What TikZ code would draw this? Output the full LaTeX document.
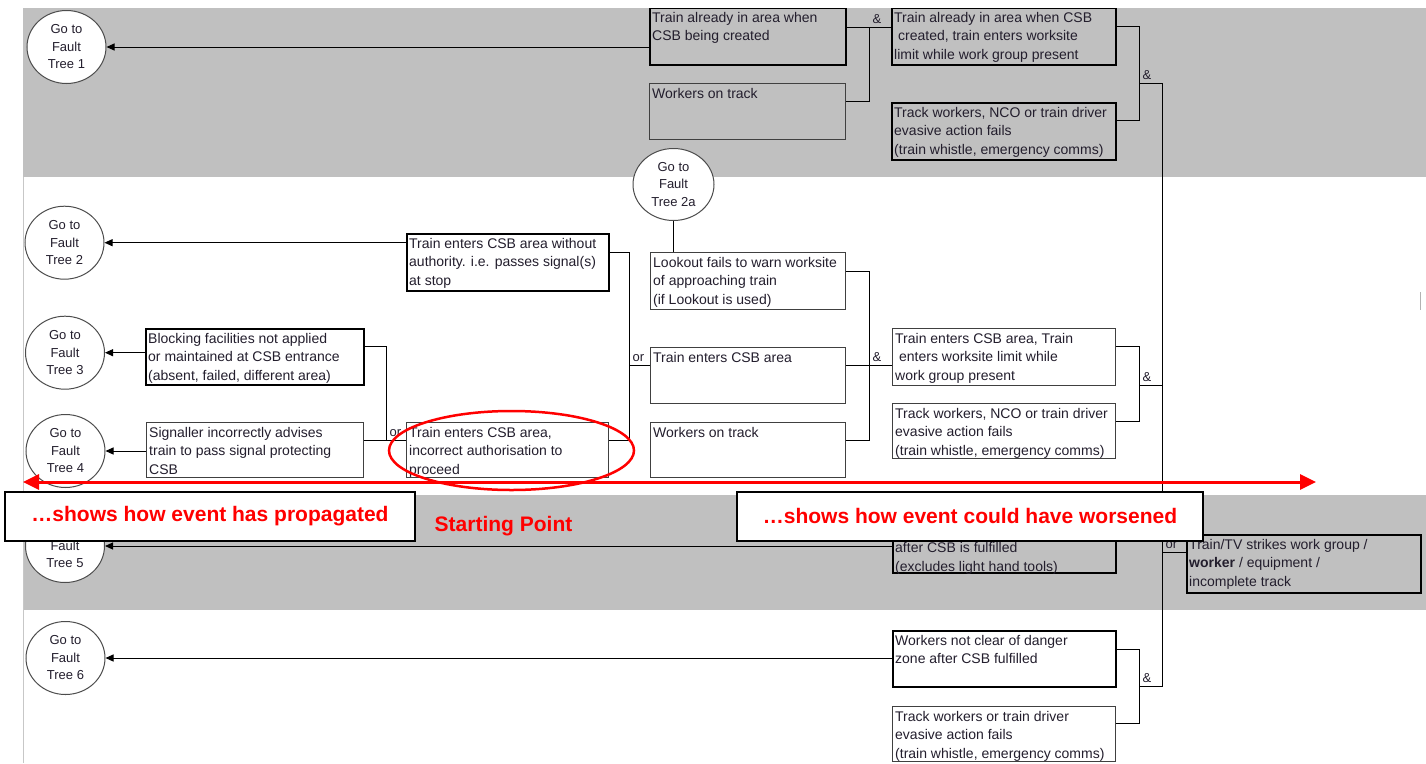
\documentclass[tikz,border=0pt]{standalone}
\usepackage{fontspec}
\setmainfont{Liberation Sans}
\usetikzlibrary{arrows.meta,shapes.geometric}
\definecolor{band}{RGB}{192,192,192}
\definecolor{ink}{RGB}{35,30,45}
\definecolor{redA}{RGB}{255,0,0}
\newcommand\mybox[7]{%
  \node[#2, minimum width=#5pt, minimum height=#6pt, anchor=north west] (#1) at (#3,#4) {};
  \node[boxtext, anchor=north west] (#1t) at (#1.north west) {#7};}
\tikzset{
  thinbox/.style={draw=black!75, line width=1.1pt, inner sep=0pt},
  thickbox/.style={draw=black, line width=2.4pt, inner sep=0pt},
  boxtext/.style={align=left, font=\fontsize{14}{18.5}\selectfont, text=ink, inner xsep=3pt, inner ysep=5pt},
  ft/.style={ellipse, draw=black!70, line width=1pt, fill=white, minimum width=79pt, minimum height=73pt,
    inner sep=0pt, align=center, font=\fontsize{13}{17.5}\selectfont, text=ink},
  conn/.style={draw=black, line width=1pt},
  arr/.style={draw=black, line width=1pt, -{Triangle[length=8pt,width=7pt]}},
  gl/.style={anchor=base west, inner sep=0pt, xshift=3.5pt, yshift=4pt, font=\fontsize{13}{15}\selectfont, text=ink},
  lab/.style={draw=black, line width=2pt, fill=white, minimum height=49pt, inner sep=0pt,
    font=\bfseries\fontsize{21}{24}\selectfont, text=redA},
  redarr/.style={draw=redA, line width=3pt, {Triangle[length=16pt,width=15pt]}-{Triangle[length=16pt,width=15pt]}},
}
\begin{document}
\begin{tikzpicture}[x=1pt,y=-1pt]
\useasboundingbox (0,0) rectangle (1426,763);
\fill[white] (0,0) rectangle (1426,763);
% bands
\fill[band] (23,8) rectangle (1426,177);
\fill[band] (23,495) rectangle (1426,610);
\draw[black!22, line width=1pt] (23,177) -- (23,763);
\draw[black!30, line width=1pt] (1420,292) -- (1420,310);

% circles
\node[ft] (ft1) at (66.5,47) {Go to\\Fault\\Tree 1};
\node[ft] (ft2) at (64.5,242.7) {Go to\\Fault\\Tree 2};
\node[ft] (ft3) at (65,352.7) {Go to\\Fault\\Tree 3};
\node[ft] (ft4) at (65.5,451) {Go to\\Fault\\Tree 4};
\node[ft] (ft5) at (65,546) {\phantom{Go to}\\Fault\\Tree 5};
\node[ft] (ft6) at (65.5,658) {Go to\\Fault\\Tree 6};
\node[ft, minimum width=81pt, minimum height=72pt] (ft2a) at (673.5,184.5) {Go to\\Fault\\Tree 2a};

% boxes
\mybox{b1}{thickbox}{649}{7}{196}{57}{Train already in area when\\CSB being created}
\mybox{b2}{thickbox}{891}{7}{224}{57}{Train already in area when CSB\\\hspace*{0.28em}created, train enters worksite\\limit while work group present}
\mybox{b3}{thinbox}{649}{83}{196}{56}{Workers on track}
\mybox{b4}{thickbox}{891}{102}{224}{57}{Track workers, NCO or train driver\\evasive action fails\\(train whistle, emergency comms)}
\mybox{b5}{thickbox}{406}{233}{202}{57}{Train enters CSB area without\\authority. i.e. passes signal(s)\\at stop}
\mybox{b6}{thickbox}{145}{328}{218}{56}{Blocking facilities not applied\\or maintained at CSB entrance\\(absent, failed, different area)}
\mybox{b7}{thinbox}{146}{422}{217}{55}{Signaller incorrectly advises\\train to pass signal protecting\\CSB}
\mybox{b8}{thinbox}{406}{422}{202}{55}{Train enters CSB area,\\incorrect authorisation to\\proceed}
\mybox{b9}{thinbox}{650}{347}{195}{56}{Train enters CSB area}
\mybox{b10}{thinbox}{650}{252}{195}{57}{Lookout fails to warn worksite\\of approaching train\\(if Lookout is used)}
\mybox{b11}{thinbox}{650}{422}{195}{55}{Workers on track}
\mybox{b12}{thinbox}{892}{328}{223}{57}{Train enters CSB area, Train\\\hspace*{0.28em}enters worksite limit while\\work group present}
\mybox{b13}{thinbox}{892}{403}{223}{55}{Track workers, NCO or train driver\\evasive action fails\\(train whistle, emergency comms)}
\mybox{b14}{thickbox}{892}{516}{223}{56}{\strut\\after CSB is fulfilled\\(excludes light hand tools)}
\mybox{b15}{thickbox}{1186}{534}{234}{58}{Train/TV strikes work group /\\\textbf{worker} / equipment /\\incomplete track}
\mybox{b16}{thickbox}{892}{630}{223}{56}{Workers not clear of danger\\zone after CSB fulfilled}
\mybox{b17}{thinbox}{892}{706}{223}{55}{Track workers or train driver\\evasive action fails\\(train whistle, emergency comms)}

% arrows to fault trees
\draw[arr] (b1.west |- ft1) -- (ft1.east);
\draw[arr] (b5.west |- ft2) -- (ft2.east);
\draw[arr] (b6.west |- ft3) -- (ft3.east);
\draw[arr] (b7.west |- ft4) -- (ft4.east);
\draw[arr] (b14.west |- ft5) -- (ft5.east);
\draw[arr] (b16.west |- ft6) -- (ft6.east);
\draw[conn] (ft2a.south) -- (ft2a.south |- b10.north);

% gate coordinates
\coordinate (g1t) at (869,27.5);  \coordinate (g1b) at (869,101);
\coordinate (g2t) at (1139,26.7); \coordinate (g2b) at (1139,120.7); \coordinate (g2o) at (1139,83.3);
\coordinate (trT) at (1162,83.3); \coordinate (trB) at (1162,686.7);
\coordinate (g3t) at (1139,346.7); \coordinate (g3b) at (1139,421.7); \coordinate (g3o) at (1139,385);
\coordinate (g5) at (1162,552.7);
\coordinate (g6t) at (1139,649); \coordinate (g6b) at (1139,723); \coordinate (g6o) at (1139,686.7);
\coordinate (g7t) at (869,271); \coordinate (g7b) at (869,440); \coordinate (g7o) at (869,365);
\coordinate (g8t) at (629,252); \coordinate (g8b) at (629,440); \coordinate (g8o) at (629,365);
\coordinate (g9t) at (386,346.7); \coordinate (g9b) at (386,440);

% gates
\draw[conn] (b1.east |- g1t) -- (b2.west |- g1t);
\draw[conn] (b3.east |- g1b) -- (g1b) -- (g1t);
\node[gl] (l1) at (g1t) {\&};
\draw[conn] (b2.east |- g2t) -- (g2t) -- (g2b) -- (b4.east |- g2b);
\draw[conn] (g2o) -- (trT);
\node[gl] (l2) at (g2o) {\&};
\draw[conn] (trT) -- (trB);
\draw[conn] (b12.east |- g3t) -- (g3t) -- (g3b) -- (b13.east |- g3b);
\draw[conn] (g3o) -- (g3o -| trT);
\node[gl] (l3) at (g3o) {\&};
\draw[conn] (g5) -- (b15.west |- g5);
\node[gl] (l5) at (g5) {or};
\draw[conn] (b16.east |- g6t) -- (g6t) -- (g6b) -- (b17.east |- g6b);
\draw[conn] (g6o) -- (trB);
\node[gl] (l6) at (g6o) {\&};
\draw[conn] (b10.east |- g7t) -- (g7t) -- (g7b) -- (b11.east |- g7b);
\draw[conn] (b9.east |- g7o) -- (b12.west |- g7o);
\node[gl] (l7) at (g7o) {\&};
\draw[conn] (b5.east |- g8t) -- (g8t) -- (g8b) -- (b8.east |- g8b);
\draw[conn] (g8o) -- (b9.west |- g8o);
\node[gl] (l8) at (g8o) {or};
\draw[conn] (b6.east |- g9t) -- (g9t) -- (g9b);
\draw[conn] (b7.east |- g9b) -- (b8.west |- g9b);
\node[gl] (l9) at (g9b) {or};

% red annotations
\node[ellipse, draw=redA, line width=2.5pt, minimum width=245pt, minimum height=79pt, inner sep=0pt] (start) at (511.5,450.5) {};
\coordinate (ra1) at (23,482);
\coordinate (ra2) at (1316,482);
\draw[redarr] (ra1) -- (ra2);
\node[lab, minimum width=410pt] (prop) at (210,516.2) {\ldots shows how event has propagated};
\node[lab, minimum width=466pt] (wors) at (970,516.2) {\ldots shows how event could have worsened};
\node[anchor=base, inner sep=0pt, font=\bfseries\fontsize{21}{24}\selectfont, text=redA] (sp) at (503.5,531.5) {Starting Point};

% top margin
\fill[white] (-5,-20) rectangle (1431,8);
\end{tikzpicture}
\end{document}
